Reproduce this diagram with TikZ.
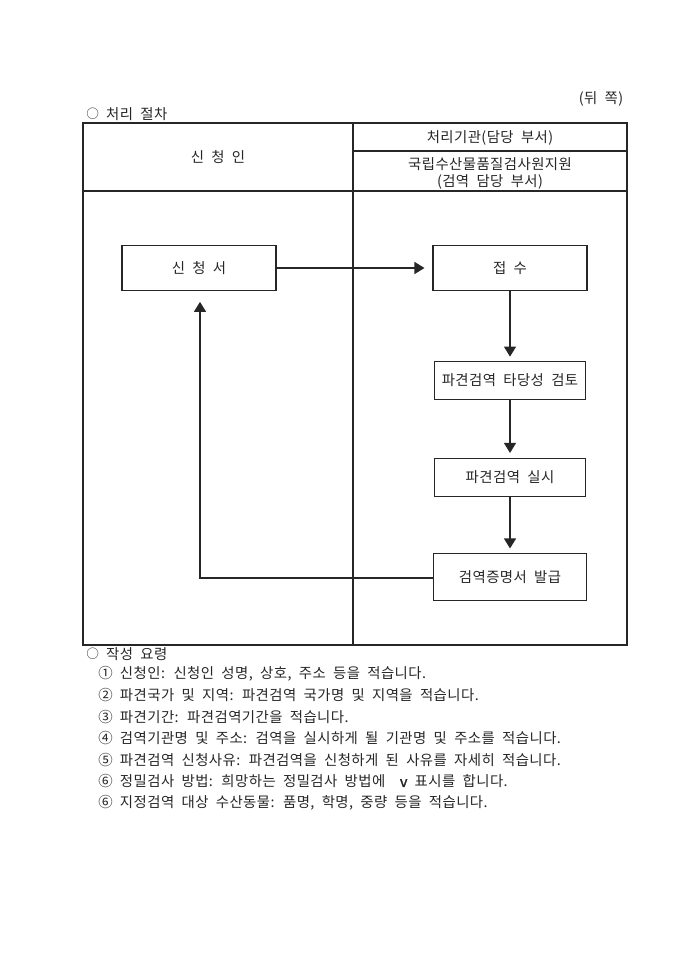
\documentclass[tikz,border=0pt]{standalone}
\usepackage{fontspec}
\setmainfont{Noto Sans CJK KR}[LetterSpace=3, WordSpace=2]
\usetikzlibrary{arrows.meta}
\newcommand{\smallcirc}{\raisebox{0.08em}{\fontsize{9.5pt}{9.5pt}\selectfont ○}}
\begin{document}
\begin{tikzpicture}[x=0.75pt,y=-0.75pt,
  every node/.style={font=\fontsize{10.8pt}{12pt}\selectfont, text=black!85, inner sep=0pt},
  frame/.style={draw=black!85, line width=0.8pt},
  procbox/.style={draw=black!85, line width=0.8pt, minimum width=115pt, minimum height=34pt},
  conn/.style={draw=black!85, line width=0.8pt, -{Triangle[length=7.5pt,width=9pt]}},
  txt/.style={anchor=west}]
\useasboundingbox (0,0) rectangle (680,962);
% frame
\draw[frame] (83,123) rectangle (627,645);
\draw[frame] (353,123) -- (353,645);
\draw[frame] (83,191) -- (627,191);
\draw[frame] (353,151) -- (627,151);
% header texts
\node (back) at (601,99) {(뒤 쪽)};
\node[txt] (title1) at (86,114.5) {\smallcirc\ 처리 절차};
\node (appl) at (218,157) {신 청 인};
\node (org1) at (490,138) {처리기관(담당 부서)};
\node (org2) at (490,164) {국립수산물품질검사원지원};
\node (org3) at (490,182) {(검역 담당 부서)};
% process boxes
\node[procbox, minimum width=115.5pt] (b1) at (199,268) {신 청 서};
\node[procbox, minimum width=115.5pt] (b2) at (510,268) {접 수};
\node[procbox, minimum width=113pt, minimum height=28pt] (b3) at (510,380.5) {파견검역 타당성 검토};
\node[procbox, minimum width=113pt, minimum height=29pt] (b4) at (510,477.5) {파견검역 실시};
\node[procbox, minimum width=115pt, minimum height=35pt] (b5) at (510,577) {검역증명서 발급};
\coordinate (corner) at (200,578);
% connectors
\draw[conn, shorten >=6pt] (b1) -- (b2);
\draw[conn, shorten >=3.5pt] (b2) -- (b3);
\draw[conn, shorten >=3.5pt] (b3) -- (b4);
\draw[conn, shorten >=3.5pt] (b4) -- (b5);
\draw[conn, shorten >=8pt] (b5.west |- corner) -- (corner) -- (corner |- b1.south);
% notes
\node[txt] (title2) at (86,654) {\smallcirc\ 작성 요령};
\node[txt] (n1) at (98,674) {① 신청인: 신청인 성명, 상호, 주소 등을 적습니다.};
\node[txt] (n2) at (98,695.5) {② 파견국가 및 지역: 파견검역 국가명 및 지역을 적습니다.};
\node[txt] (n3) at (98,717) {③ 파견기간: 파견검역기간을 적습니다.};
\node[txt] (n4) at (98,738.5) {④ 검역기관명 및 주소: 검역을 실시하게 될 기관명 및 주소를 적습니다.};
\node[txt] (n5) at (98,760) {⑤ 파견검역 신청사유: 파견검역을 신청하게 된 사유를 자세히 적습니다.};
\node[txt] (n6) at (98,781.5) {⑥ 정밀검사 방법: 희망하는 정밀검사 방법에 \ {\addfontfeatures{FakeBold=2}v} 표시를 합니다.};
\node[txt] (n7) at (98,803) {⑥ 지정검역 대상 수산동물: 품명, 학명, 중량 등을 적습니다.};
\end{tikzpicture}
\end{document}
